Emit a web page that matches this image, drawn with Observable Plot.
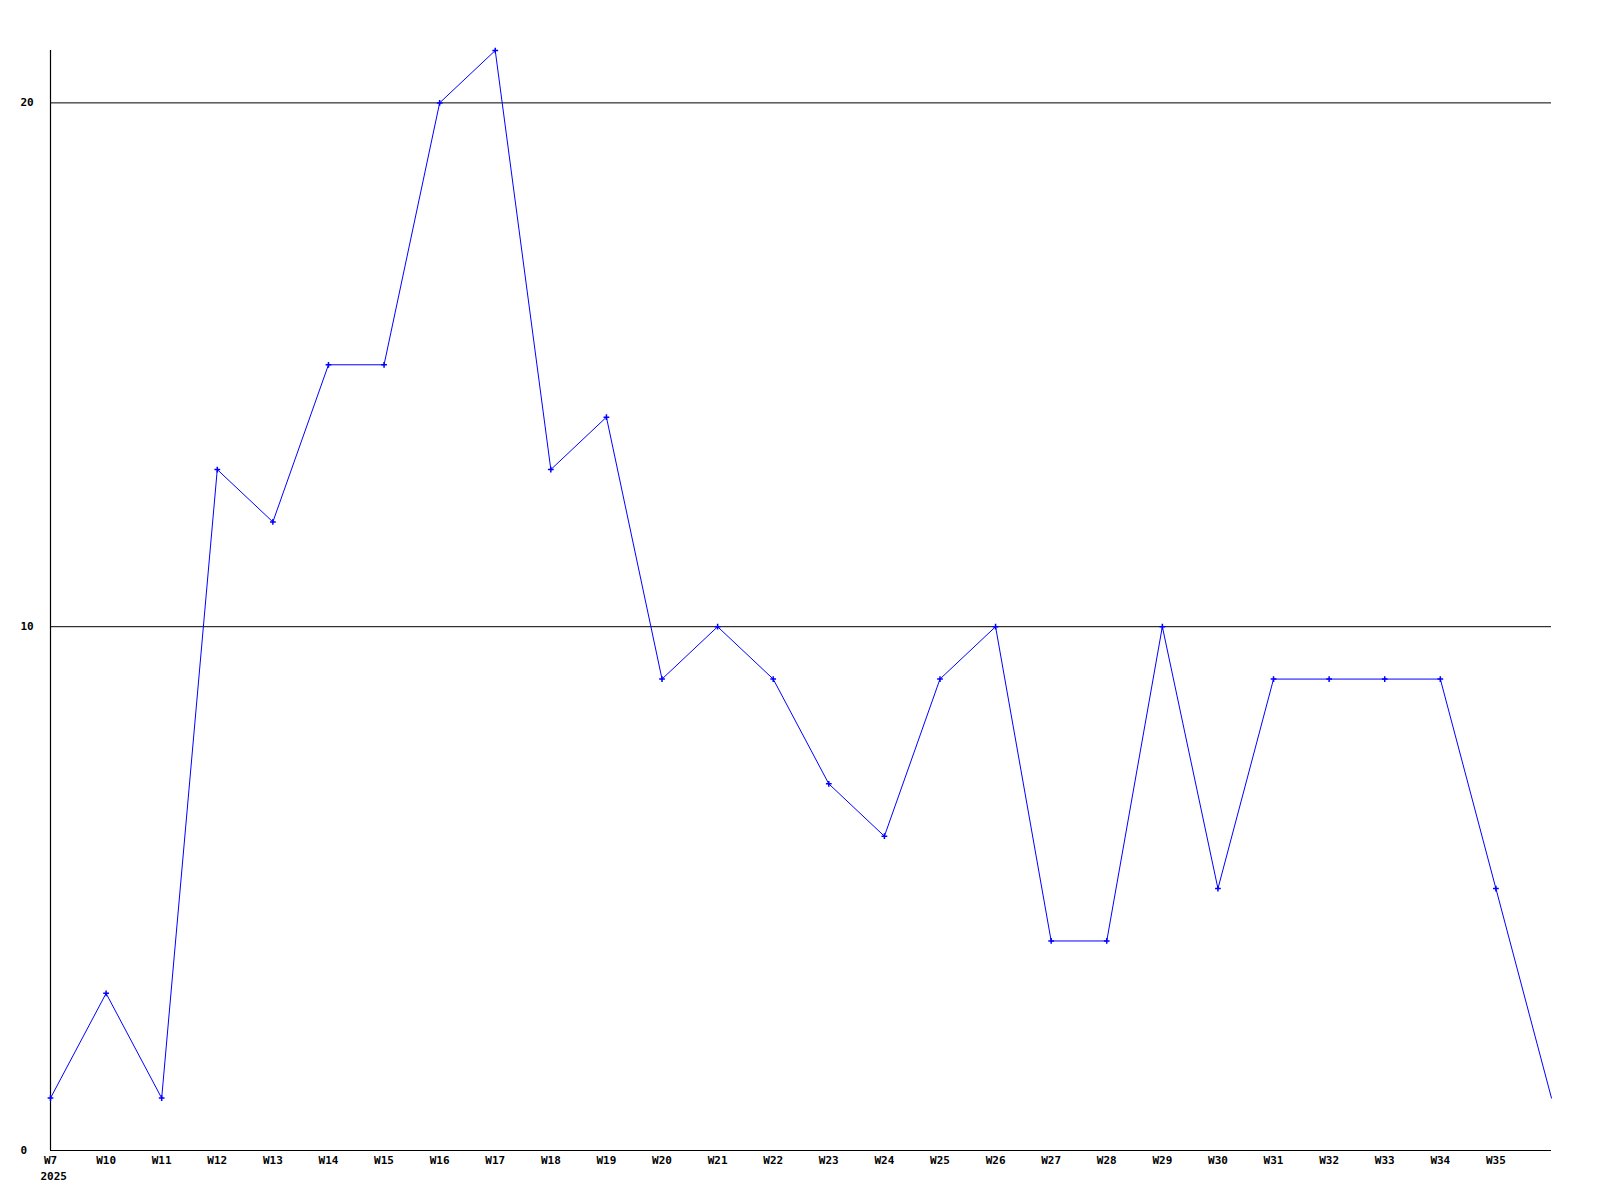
<!DOCTYPE html>
<html>
<head>
<meta charset="utf-8">
<script src="https://cdn.jsdelivr.net/npm/d3@7"></script>
<script src="https://cdn.jsdelivr.net/npm/@observablehq/plot@0.6"></script>
<style>
  html, body { margin: 0; padding: 0; background: #fff; }
  #chart svg { display: block; }
</style>
</head>
<body>
<div id="chart"></div>
<script>
const weeks = ["W7","W10","W11","W12","W13","W14","W15","W16","W17","W18","W19","W20","W21","W22","W23","W24","W25","W26","W27","W28","W29","W30","W31","W32","W33","W34","W35","W36"];
const values = [1,3,1,13,12,15,15,20,21,13,14,9,10,9,7,6,9,10,4,4,10,5,9,9,9,9,5,1];
const yearLabel = "2025";
const gridValues = [10, 20];
const yTicks = [0, 10, 20];

const data = weeks.map((w, i) => ({week: w, value: values[i]}));
const markerData = data.slice(0, -1);
const tickWeeks = weeks.slice(0, -1);

const font = "'DejaVu Sans Mono', 'Liberation Mono', monospace";

const chart = Plot.plot({
  width: 1600,
  height: 1200,
  marginLeft: 50,
  marginRight: 49,
  marginTop: 50,
  marginBottom: 50,
  style: {fontFamily: font, fontSize: "11px", fontWeight: "bold", color: "#000", background: "#fff"},
  x: {type: "point", domain: weeks, padding: 0, round: false},
  y: {domain: [0, 21]},
  marks: [
    Plot.ruleY(gridValues, {stroke: "#000", strokeWidth: 1}),
    Plot.ruleY([0], {stroke: "#000", strokeWidth: 1.2}),
    Plot.ruleX([weeks[0]], {y1: 0, y2: 21, stroke: "#000", strokeWidth: 1.2}),
    Plot.axisX(tickWeeks, {tickSize: 0, tickPadding: 6, label: null, fill: "#000"}),
    Plot.text([yearLabel], {x: () => weeks[0], y: () => 0, text: (d) => d, dy: 26, dx: -10, textAnchor: "start", lineAnchor: "middle", fill: "#000"}),
    Plot.axisY(yTicks, {tickSize: 0, tickPadding: 30, textAnchor: "start", tickFormat: "d", label: null, fill: "#000"}),
    Plot.line(data, {x: "week", y: "value", stroke: "#0000ff", strokeWidth: 1}),
    Plot.dot(markerData, {x: "week", y: "value", symbol: "plus", r: 2, stroke: "#0000ff", strokeWidth: 1.5})
  ]
});
document.getElementById("chart").appendChild(chart);
</script>
</body>
</html>
